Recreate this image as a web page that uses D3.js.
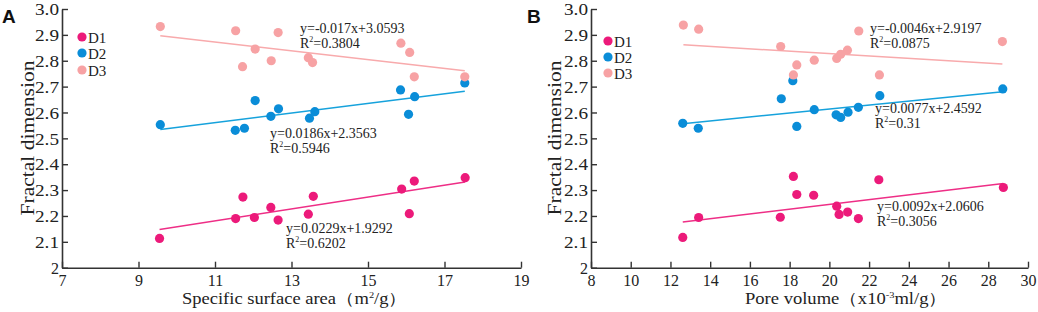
<!DOCTYPE html>
<html><head><meta charset="utf-8">
<script src="https://cdn.jsdelivr.net/npm/d3@7"></script>
<style>body{margin:0;background:#fff} svg{display:block}</style>
</head><body><svg id="c" width="1038" height="312"></svg>
<script>
// ---------- data ----------
const seriesNames = ["D1", "D2", "D3"];
const seriesColors = ["#EC1A7A", "#0A8DD8", "#F7A2A4"];
const lineColors = ["#EE2E86", "#16A2DC", "#F8AAAC"];

// Panel A: specific surface area (m2/g)
const ssaD1x = [9.55, 11.54, 11.73, 12.03, 12.46, 12.65, 13.44, 13.57, 15.88, 16.08, 16.21, 17.54];
const ssaD1y = [2.113, 2.190, 2.273, 2.194, 2.233, 2.184, 2.207, 2.276, 2.304, 2.209, 2.335, 2.348];
const ssaD2x = [9.57, 11.53, 11.77, 12.05, 12.46, 12.66, 13.47, 13.61, 15.85, 16.06, 16.22, 17.53];
const ssaD2y = [2.553, 2.531, 2.539, 2.646, 2.585, 2.614, 2.578, 2.603, 2.687, 2.593, 2.661, 2.714];
const ssaD3x = [9.57, 11.54, 11.72, 12.05, 12.47, 12.65, 13.44, 13.55, 15.86, 16.09, 16.21, 17.53];
const ssaD3y = [2.932, 2.916, 2.777, 2.845, 2.800, 2.909, 2.812, 2.793, 2.868, 2.832, 2.738, 2.738];
const ssaSlopes = [0.0229, 0.0186, -0.017];
const ssaIntercepts = [1.9292, 2.3563, 3.0593];
const ssaEq = ["y=0.0229x+1.9292", "y=0.0186x+2.3563", "y=-0.017x+3.0593"];
const ssaR2 = ["0.6202", "0.5946", "0.3804"];
const ssaTicks = [7, 9, 11, 13, 15, 17, 19];

// Panel B: pore volume (x10^-3 ml/g)
const pvD1x = [12.62, 13.42, 17.53, 18.19, 18.36, 19.21, 20.37, 20.49, 20.92, 21.46, 22.49, 28.76];
const pvD1y = [2.117, 2.194, 2.195, 2.353, 2.283, 2.280, 2.238, 2.206, 2.215, 2.190, 2.340, 2.310];
const pvD2x = [12.62, 13.40, 17.58, 18.16, 18.36, 19.24, 20.34, 20.57, 20.94, 21.46, 22.54, 28.73];
const pvD2y = [2.558, 2.539, 2.653, 2.723, 2.546, 2.611, 2.591, 2.581, 2.601, 2.620, 2.665, 2.691];
const pvD3x = [12.65, 13.42, 17.55, 18.19, 18.36, 19.24, 20.37, 20.57, 20.91, 21.48, 22.52, 28.71];
const pvD3y = [2.938, 2.922, 2.855, 2.745, 2.784, 2.802, 2.809, 2.825, 2.841, 2.915, 2.745, 2.874];
const pvSlopes = [0.0092, 0.0077, -0.0046];
const pvIntercepts = [2.0606, 2.4592, 2.9197];
const pvEq = ["y=0.0092x+2.0606", "y=0.0077x+2.4592", "y=-0.0046x+2.9197"];
const pvR2 = ["0.3056", "0.31", "0.0875"];
const pvTicks = [8, 10, 12, 14, 16, 18, 20, 22, 24, 26, 28, 30];

const yTicks = [2, 2.1, 2.2, 2.3, 2.4, 2.5, 2.6, 2.7, 2.8, 2.9, 3.0];

// ---------- layout ----------
const SERIF = "'Liberation Serif','Times New Roman',serif";
const svg = d3.select("#c");
svg.append("rect").attr("width", 1038).attr("height", 312).attr("fill", "#fff");

const panels = [
  {
    letter: "A", letterX: 2, xs: [ssaD1x, ssaD2x, ssaD3x], ys: [ssaD1y, ssaD2y, ssaD3y],
    slopes: ssaSlopes, intercepts: ssaIntercepts, eq: ssaEq, r2: ssaR2,
    xDomain: [7, 19], xRange: [62, 521], ticks: ssaTicks,
    yTitleX: 34, legendX: 82, legendY: [37, 53, 70],
    eqPos: [[286, 233], [270, 138], [300, 33]],
    xTitle: ["Specific surface area（m", "2", "/g）"], xTitleX: 182, xTitleLen: 225
  },
  {
    letter: "B", letterX: 527, xs: [pvD1x, pvD2x, pvD3x], ys: [pvD1y, pvD2y, pvD3y],
    slopes: pvSlopes, intercepts: pvIntercepts, eq: pvEq, r2: pvR2,
    xDomain: [8, 30], xRange: [591, 1028], ticks: pvTicks,
    yTitleX: 561, legendX: 608, legendY: [41, 57, 73],
    eqPos: [[877, 211], [875, 113], [870, 33]],
    xTitle: ["Pore volume（x10", "-3", "ml/g）"], xTitleX: 745, xTitleLen: 202
  }
];

const y = d3.scaleLinear().domain([2, 3]).range([267.7, 9]);

panels.forEach(p => {
  const x = d3.scaleLinear().domain(p.xDomain).range(p.xRange);
  const g = svg.append("g");

  // trend lines
  p.slopes.forEach((m, i) => {
    const ext = d3.extent(p.xs[i]);
    g.append("line")
      .attr("x1", x(ext[0])).attr("y1", y(m * ext[0] + p.intercepts[i]))
      .attr("x2", x(ext[1])).attr("y2", y(m * ext[1] + p.intercepts[i]))
      .attr("stroke", lineColors[i]).attr("stroke-width", 1.5);
  });

  // points
  p.xs.forEach((xsArr, i) => {
    g.selectAll(null).data(xsArr.map((v, k) => [v, p.ys[i][k]])).enter()
      .append("circle")
      .attr("cx", d => x(d[0])).attr("cy", d => y(d[1])).attr("r", 4.6)
      .attr("fill", seriesColors[i]);
  });

  // axes
  const xAxis = d3.axisBottom(x).tickValues(p.ticks).tickSizeInner(-6).tickSizeOuter(0).tickPadding(7).tickFormat(d3.format("d"));
  const ax = g.append("g").attr("transform", `translate(0,${y(2)})`).call(xAxis);
  ax.select(".domain").attr("stroke", "#333").attr("stroke-width", 1.6);
  ax.selectAll(".tick line").attr("stroke", "#333").attr("stroke-width", 1.4);
  ax.selectAll("text").attr("font-family", SERIF).attr("font-size", 16).attr("fill", "#222").attr("dy", "0.7em");

  const yAxis = d3.axisLeft(y).tickValues(yTicks).tickSizeInner(-6).tickSizeOuter(0).tickPadding(3)
    .tickFormat(d => d === 2 ? "2" : d.toFixed(1));
  const ay = g.append("g").attr("transform", `translate(${p.xRange[0]},0)`).call(yAxis);
  ay.select(".domain").attr("stroke", "#333").attr("stroke-width", 1.6);
  ay.selectAll(".tick line").attr("stroke", "#333").attr("stroke-width", 1.4);
  ay.selectAll("text").attr("font-family", SERIF).attr("font-size", 16).attr("fill", "#222").attr("dy", "0.36em")
    .attr("textLength", d => d === 2 ? null : 24).attr("lengthAdjust", "spacingAndGlyphs");

  // y title
  g.append("text").attr("transform", `translate(${p.yTitleX},138) rotate(-90)`)
    .attr("text-anchor", "middle").attr("font-family", SERIF).attr("font-size", 19).attr("fill", "#222")
    .attr("textLength", 155).attr("lengthAdjust", "spacingAndGlyphs")
    .text("Fractal dimension");

  // x title
  const xt = g.append("text").attr("x", p.xTitleX).attr("y", 304)
    .attr("font-family", SERIF).attr("font-size", 16).attr("fill", "#222")
    .attr("textLength", p.xTitleLen).attr("lengthAdjust", "spacingAndGlyphs");
  xt.append("tspan").text(p.xTitle[0]);
  xt.append("tspan").attr("font-size", 9).attr("dy", -6).text(p.xTitle[1]);
  xt.append("tspan").attr("dy", 6).text(p.xTitle[2]);

  // panel letter
  g.append("text").attr("x", p.letterX).attr("y", 23)
    .attr("font-family", "'Liberation Sans',Arial,sans-serif").attr("font-weight", "bold")
    .attr("font-size", 19).attr("fill", "#111").text(p.letter);

  // legend
  seriesNames.forEach((n, i) => {
    g.append("circle").attr("cx", p.legendX).attr("cy", p.legendY[i]).attr("r", 4.6).attr("fill", seriesColors[i]);
    g.append("text").attr("x", p.legendX + 6).attr("y", p.legendY[i] + 5.5)
      .attr("font-family", SERIF).attr("font-size", 15).attr("fill", "#222").text(n);
  });

  // equations
  p.eq.forEach((e, i) => {
    const [ex, ey] = p.eqPos[i];
    g.append("text").attr("x", ex).attr("y", ey).attr("font-family", SERIF).attr("font-size", 14).attr("fill", "#222").text(e);
    const t = g.append("text").attr("x", ex).attr("y", ey + 14.5).attr("font-family", SERIF).attr("font-size", 14).attr("fill", "#222");
    t.append("tspan").text("R");
    t.append("tspan").attr("font-size", 8).attr("dy", -6).text("2");
    t.append("tspan").attr("dy", 6).text("=" + p.r2[i]);
  });
});
</script></body></html>
